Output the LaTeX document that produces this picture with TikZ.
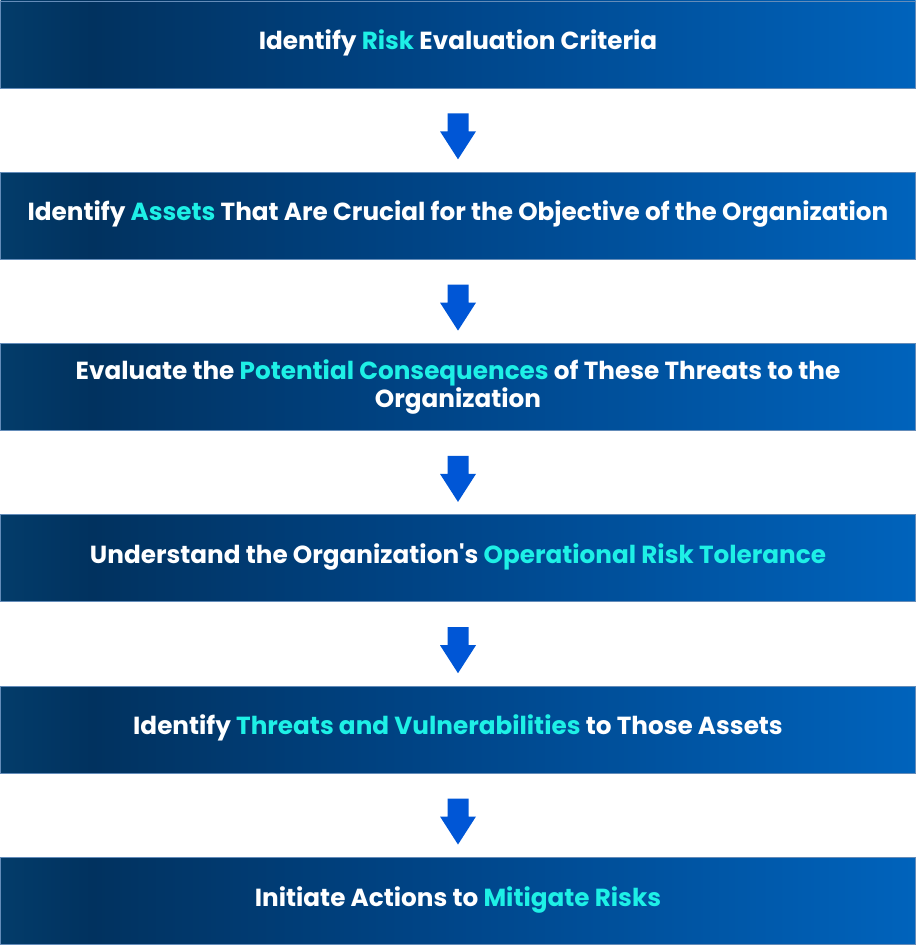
\documentclass[tikz,border=0pt]{standalone}
\usepackage{fontspec}
\newfontfamily\popfont{Poppins}
\usetikzlibrary{shadows.blur}
\definecolor{hl}{RGB}{30,240,230}
\definecolor{arrowblue}{RGB}{0,86,214}
\definecolor{edgeblue}{RGB}{100,140,185}
\definecolor{gA}{RGB}{3,60,106}
\definecolor{gB}{RGB}{1,50,95}
\definecolor{gC}{RGB}{0,70,138}
\definecolor{gD}{RGB}{0,99,188}
\pgfdeclarehorizontalshading{boxshade}{100bp}{color(0bp)=(gA); color(25bp)=(gA); color(30bp)=(gB); color(50bp)=(gC); color(75bp)=(gD); color(100bp)=(gD)}
\tikzset{
  stepbox/.style={shading=boxshade, draw=edgeblue, line width=0.8pt,
    minimum width=915pt, minimum height=87pt, inner sep=0pt, align=center,
    text=white, font=\popfont\fontsize{24.7}{28}\selectfont\bfseries, anchor=north},
  oneline/.style={text height=18pt, text depth=7.8pt},
  blockarrow/.style={fill=arrowblue, blur shadow={shadow xshift=1pt, shadow yshift=-3pt, shadow opacity=0.25, shadow blur steps=6}}
}
\newcommand{\hlt}[1]{\textcolor{hl}{#1}}
\begin{document}
\begin{tikzpicture}[x=1pt,y=1pt]
\useasboundingbox (0,0) rectangle (916,-945);
\node[stepbox,oneline] (b1) at (458,-0.5) {Identify \hlt{Risk} Evaluation Criteria};
\node[stepbox,oneline] (b2) at (458,-171.8) {Identify \hlt{Assets} That Are Crucial for the Objective of the Organization};
\node[stepbox] (b3) at (458,-343.1) {Evaluate the \hlt{Potential Consequences} of These Threats to the\\Organization};
\node[stepbox,oneline] (b4) at (458,-514.4) {Understand the Organization's \hlt{Operational Risk Tolerance}};
\node[stepbox,oneline] (b5) at (458,-685.7) {Identify \hlt{Threats and Vulnerabilities} to Those Assets};
\node[stepbox,oneline] (b6) at (458,-857.0) {Initiate Actions to \hlt{Mitigate Risks}};
\foreach \a in {b1,b2,b3,b4,b5}{
  \begin{scope}[shift={(\a.south)}]
    \fill[blockarrow] (-10.5,-25) -- (10.5,-25) -- (10.5,-43) -- (18,-43) -- (0,-71) -- (-18,-43) -- (-10.5,-43) -- cycle;
  \end{scope}
}
\end{tikzpicture}
\end{document}
